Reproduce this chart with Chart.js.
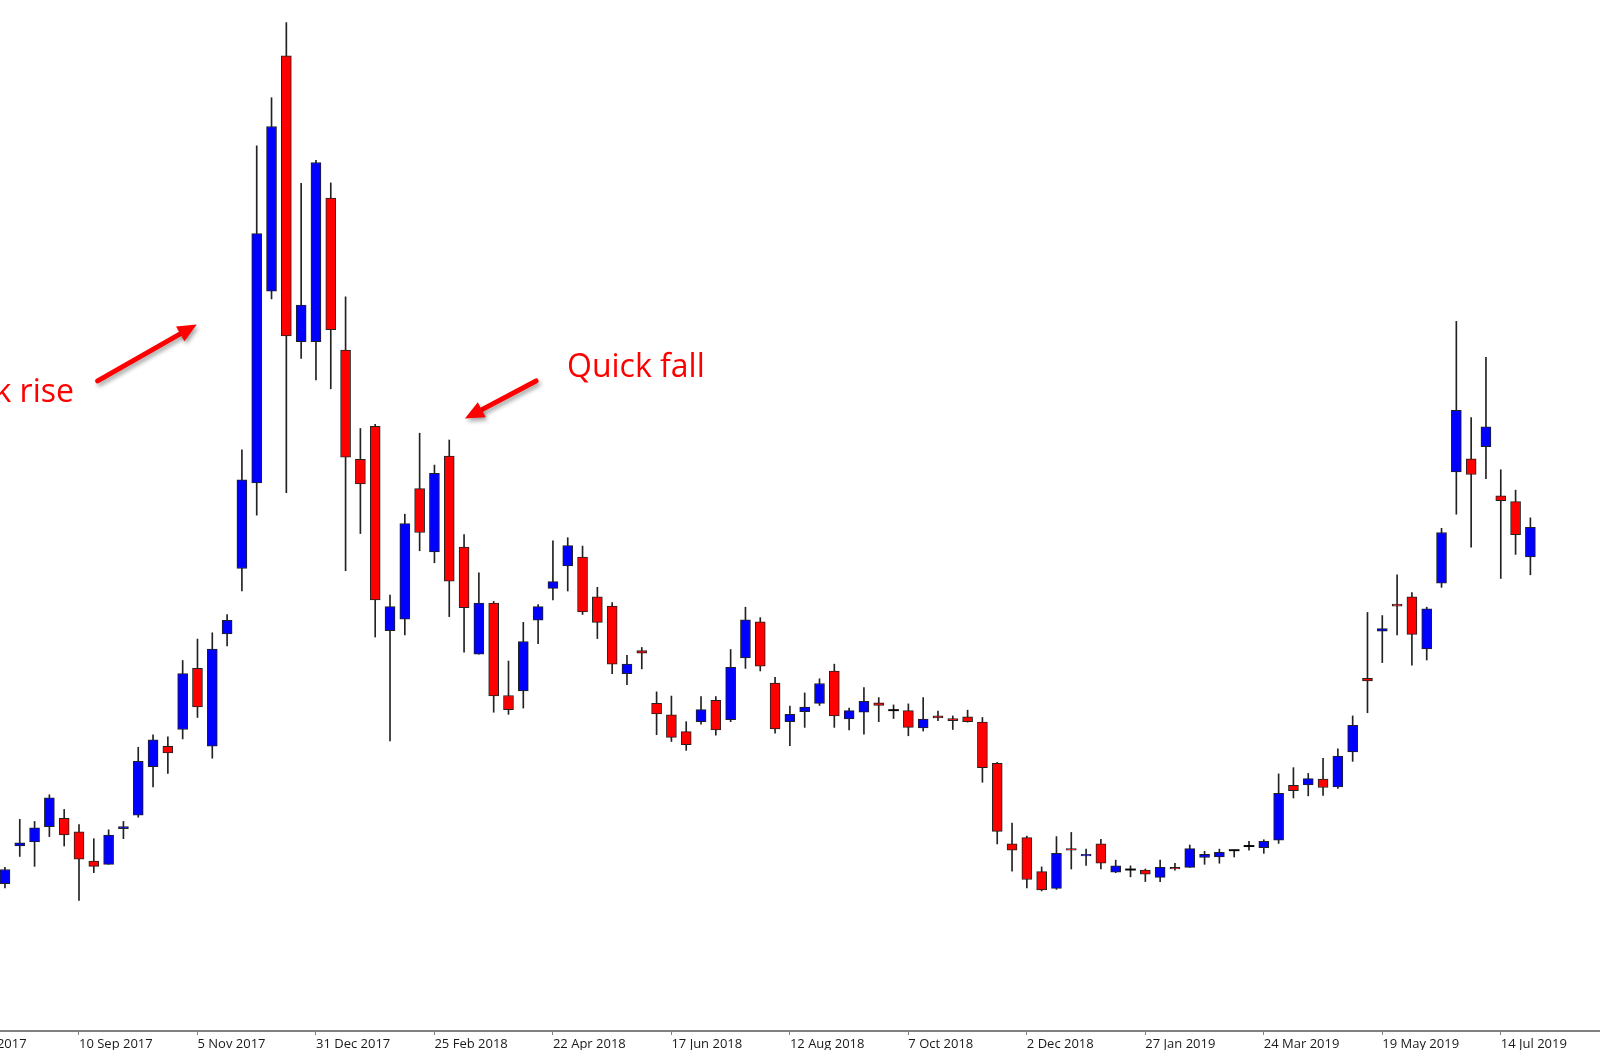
<!DOCTYPE html>
<html>
<head>
<meta charset="utf-8">
<title>Weekly candles</title>
<script src="https://cdn.jsdelivr.net/npm/chart.js@4.4.1/dist/chart.umd.min.js"></script>
<style>
  html, body { margin: 0; padding: 0; background: #fff; }
  #wrap { width: 1600px; height: 1050px; }
</style>
</head>
<body>
<div id="wrap"><canvas id="chart"></canvas></div>
<script>
// weekly candles, week 0 = 10 Sep 2017, first candle is 5 weeks earlier
const firstWeek = -5;

const opens = [
  3320, 4040, 4120, 4410, 4570, 4310, 3750, 3690, 4370, 4630,
  5560, 5950, 6270, 7440, 5950, 8100, 9350, 10990, 14660, 19160,
  13690, 13690, 16440, 13530, 11440, 12070, 8160, 8380, 10880, 9670,
  11500, 9760, 7710, 8690, 6920, 7010, 8360, 8970, 9400, 9570,
  8810, 8630, 7340, 7780, 6770, 6550, 6230, 6420, 6830, 6460,
  7640, 8330, 7160, 6420, 6610, 6770, 7390, 6470, 6600, 6780,
  6640, 6630, 6300, 6530, 6480, 6510, 6410, 5620, 4080, 4200,
  3550, 3230, 3990, 3850, 4080, 3540, 3590, 3580, 3440, 3630,
  3630, 3820, 3830, 3960, 4040, 4010, 4150, 5200, 5210, 5320,
  5170, 5840, 7250, 8150, 8670, 8810, 7810, 9070, 11200, 11450,
  11680, 10740, 10630, 9570
];
const highs = [
  3630, 4550, 4510, 5020, 4740, 4450, 4180, 4350, 4510, 5930,
  6170, 6130, 7590, 8000, 8120, 8470, 11620, 17440, 18360, 19800,
  16720, 17160, 16730, 14550, 12030, 12110, 8840, 10390, 11940, 11330,
  11810, 10000, 9270, 8720, 7580, 8320, 8660, 9880, 9940, 9780,
  8990, 8700, 7690, 7840, 6990, 6910, 6420, 6900, 6900, 7800,
  8610, 8410, 7270, 6720, 6970, 7240, 7520, 6680, 7070, 6880,
  6740, 6760, 6880, 6620, 6530, 6640, 6500, 5640, 4480, 4230,
  3640, 4220, 4300, 3980, 4170, 3770, 3660, 3600, 3770, 3710,
  4060, 3940, 3980, 3960, 4130, 4160, 5420, 5540, 5430, 5720,
  5900, 6530, 8510, 8450, 9230, 8890, 8610, 10120, 14080, 12240,
  13390, 11240, 10850, 10320
];
const lows = [
  3240, 3840, 3650, 4220, 4040, 3000, 3530, 3690, 4180, 4590,
  5170, 5430, 6090, 6500, 5720, 7870, 8920, 10370, 14510, 10800,
  13370, 12960, 12790, 9310, 10020, 8040, 6050, 8080, 9690, 9460,
  8430, 7750, 7710, 6600, 6560, 6680, 7910, 8750, 8920, 8470,
  8010, 7340, 7130, 7430, 6170, 6040, 5870, 6370, 6160, 6420,
  7440, 7390, 6200, 5960, 6310, 6730, 6310, 6260, 6180, 6420,
  6480, 6150, 6240, 6440, 6270, 6410, 5260, 4080, 3560, 3240,
  3180, 3210, 3600, 3670, 3600, 3530, 3450, 3360, 3360, 3580,
  3630, 3690, 3710, 3830, 3960, 3900, 4090, 4960, 5000, 5010,
  5140, 5660, 6590, 7550, 8080, 7500, 7600, 8990, 10390, 9760,
  11070, 9160, 9620, 9230
];
const closes = [
  3590, 4100, 4390, 4960, 4250, 3790, 3650, 4250, 4410, 5660,
  6070, 5820, 7340, 6700, 7810, 8360, 11050, 15760, 17810, 13800,
  14390, 17120, 13920, 11480, 10970, 8750, 8620, 10210, 10040, 11170,
  9110, 8600, 8690, 6910, 6650, 7950, 8620, 9100, 9790, 8520,
  8320, 7520, 7520, 7730, 6570, 6120, 5980, 6650, 6260, 7460,
  8370, 7480, 6280, 6560, 6700, 7150, 6530, 6630, 6810, 6730,
  6640, 6310, 6470, 6490, 6440, 6420, 5540, 4320, 3960, 3400,
  3200, 3900, 3960, 3880, 3710, 3660, 3590, 3500, 3630, 3600,
  3990, 3880, 3920, 3960, 4040, 4130, 5050, 5100, 5330, 5160,
  5760, 6350, 7200, 8200, 8630, 8090, 8580, 10040, 12380, 11150,
  12060, 10650, 10000, 10140
];

const tickLabels = [
  "16 Jul 2017", "10 Sep 2017", "5 Nov 2017", "31 Dec 2017", "25 Feb 2018",
  "22 Apr 2018", "17 Jun 2018", "12 Aug 2018", "7 Oct 2018", "2 Dec 2018",
  "27 Jan 2019", "24 Mar 2019", "19 May 2019", "14 Jul 2019"
];
const tickStart = -8;
const tickStep = 8;

// annotation anchors in chart units (week, price)
const notes = [
  { text: "Quick rise", at: [-0.34, 12540], align: "right", from: [1.26, 12940], to: [7.95, 14020] },
  { text: "Quick fall", at: [32.95, 13020], align: "left", from: [30.86, 12940], to: [26.06, 12220] }
];

const UP = "#0000ff";
const DOWN = "#ff0000";
const FLAT = "#000000";

const weeks = opens.map((_, k) => firstWeek + k);
const isFlat = k => opens[k] === closes[k];
const bodyColors = opens.map((o, k) => isFlat(k) ? FLAT : (closes[k] > o ? UP : DOWN));

// doji gets a hairline body so it still shows
const bodies = weeks.map((w, k) => ({
  x: w,
  y: isFlat(k) ? [opens[k] - 12, opens[k] + 12] : [opens[k], closes[k]]
}));
const wicks = weeks.map((w, k) => ({ x: w, y: [lows[k], highs[k]] }));

function drawArrow(ctx, x0, y0, x1, y1) {
  const ang = Math.atan2(y1 - y0, x1 - x0);
  const headLen = 19, headHalf = 8.5;
  const bx = x1 - Math.cos(ang) * headLen;
  const by = y1 - Math.sin(ang) * headLen;
  ctx.lineWidth = 5;
  ctx.lineCap = "round";
  ctx.beginPath();
  ctx.moveTo(x0, y0);
  ctx.lineTo(bx + Math.cos(ang) * 2, by + Math.sin(ang) * 2);
  ctx.stroke();
  ctx.beginPath();
  ctx.moveTo(x1, y1);
  ctx.lineTo(bx + Math.sin(ang) * headHalf, by - Math.cos(ang) * headHalf);
  ctx.lineTo(bx - Math.sin(ang) * headHalf, by + Math.cos(ang) * headHalf);
  ctx.closePath();
  ctx.fill();
}

const notesPlugin = {
  id: "notes",
  afterDatasetsDraw(chart) {
    const { ctx, scales: { x, y } } = chart;
    ctx.save();
    ctx.fillStyle = "#ff0000";
    ctx.strokeStyle = "#ff0000";
    ctx.font = '32px "Open Sans"';
    ctx.textBaseline = "alphabetic";
    notes.forEach(n => {
      ctx.textAlign = n.align;
      ctx.fillText(n.text, x.getPixelForValue(n.at[0]), y.getPixelForValue(n.at[1]));
    });
    ctx.shadowColor = "rgba(0, 0, 0, 0.35)";
    ctx.shadowBlur = 4;
    ctx.shadowOffsetX = 2;
    ctx.shadowOffsetY = 3;
    notes.forEach(n => {
      drawArrow(ctx,
        x.getPixelForValue(n.from[0]), y.getPixelForValue(n.from[1]),
        x.getPixelForValue(n.to[0]), y.getPixelForValue(n.to[1]));
    });
    ctx.restore();
  }
};

new Chart(document.getElementById("chart"), {
  type: "bar",
  data: {
    datasets: [
      {
        label: "body",
        data: bodies,
        backgroundColor: bodyColors,
        borderColor: "#222222",
        borderWidth: ctx => isFlat(ctx.dataIndex) ? 0 : 1,
        borderSkipped: false,
        barThickness: 10,
        grouped: false,
        order: 0
      },
      {
        label: "wick",
        data: wicks,
        backgroundColor: "#222222",
        borderWidth: 0,
        barThickness: 1,
        grouped: false,
        order: 1
      }
    ]
  },
  options: {
    responsive: true,
    maintainAspectRatio: false,
    animation: false,
    events: [],
    layout: { padding: 0 },
    plugins: {
      legend: { display: false },
      tooltip: { enabled: false }
    },
    scales: {
      x: {
        type: "linear",
        min: -5.334,
        max: 102.7,
        offset: false,
        afterBuildTicks: scale => {
          scale.ticks = tickLabels.map((_, k) => ({ value: tickStart + k * tickStep }));
        },
        afterFit: scale => {
          scale.height = 19;
          // the first label hangs off the left edge, like the cropped original
          scale.paddingLeft = 0;
          scale.paddingRight = 0;
        },
        grid: { drawOnChartArea: false, drawTicks: true, tickLength: 4, color: "#808080", offset: false },
        border: { display: true, color: "#808080", width: 2 },
        ticks: {
          autoSkip: false,
          maxRotation: 0,
          align: "start",
          padding: 1,
          color: "#1a1a1a",
          font: { family: "Open Sans", size: 13 },
          callback: (v, k) => tickLabels[k]
        }
      },
      y: {
        display: false,
        min: 500,
        max: 20230
      }
    }
  },
  plugins: [notesPlugin]
});
</script>
</body>
</html>
